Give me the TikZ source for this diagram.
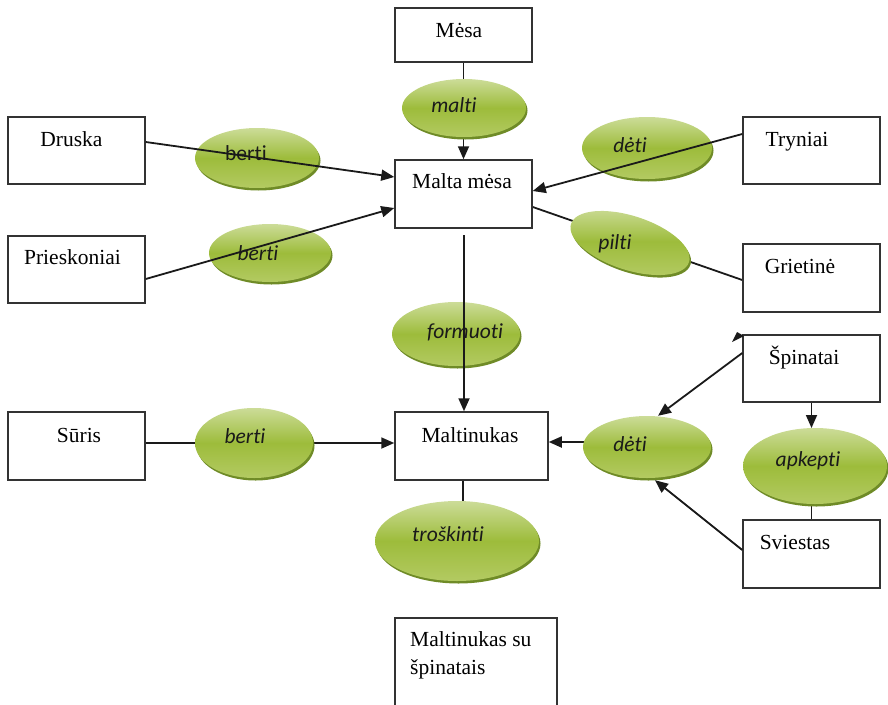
\documentclass[tikz,border=0pt]{standalone}
\usepackage{fontspec}
\setmainfont{Liberation Serif}
\newfontfamily\calib[Ligatures={NoCommon,NoRare}]{Carlito}
\usetikzlibrary{arrows.meta,shapes.geometric,backgrounds}
\definecolor{lineC}{HTML}{1A1A1A}
\definecolor{boxC}{HTML}{333333}
\definecolor{gTop}{HTML}{CCDC98}
\definecolor{gMid}{HTML}{9DBC3B}
\definecolor{gBot}{HTML}{B3CA62}
\definecolor{gShadow}{HTML}{6F8B27}
\tikzset{
  box/.style={draw=boxC, line width=1.5pt, rectangle, inner sep=0pt, minimum width=137pt},
  btxt/.style={anchor=base, inner sep=0pt, font=\fontsize{21.5}{26}\selectfont, text=black},
  etxt/.style={anchor=base, inner sep=0pt, font=\fontsize{21.5}{26}\selectfont\calib\itshape, text=lineC},
  etxtup/.style={anchor=base, inner sep=0pt, font=\fontsize{21.5}{26}\selectfont\calib, text=lineC},
  oval/.style={ellipse, inner sep=0pt, draw=none,
    preaction={fill=gShadow, transform canvas={xshift=1.5pt, yshift=-2.5pt}},
    top color=gTop, bottom color=gBot, middle color=gMid},
  arr/.style={draw=lineC, line width=1.8pt, -{Triangle[length=13pt,width=11pt]}},
  ln/.style={draw=lineC, line width=1.8pt},
}
\begin{document}
\begin{tikzpicture}[x=1pt,y=-1pt]
\useasboundingbox (0,0) rectangle (888,704);
% boxes
\node[box, minimum height=54pt] (mesa) at (463.5,35) {};
\node[box, minimum height=68pt] (malta) at (463.5,194) {};
\node[box, minimum height=67pt] (druska) at (76.5,150.5) {};
\node[box, minimum height=67pt] (priesk) at (76.5,269.5) {};
\node[box, minimum height=67pt] (tryniai) at (811.5,150.5) {};
\node[box, minimum height=68pt] (grietine) at (811.5,278) {};
\node[box, minimum height=67pt] (spinatai) at (811.5,368.5) {};
\node[box, minimum height=68pt] (sviestas) at (811.5,554) {};
\node[box, minimum height=68pt] (suris) at (76.5,446) {};
\node[box, minimum width=153pt, minimum height=68pt] (maltinukas) at (471.5,446) {};
\node[box, minimum width=162pt, minimum height=110pt] (final) at (476,673) {};
% box texts
\node[btxt] (tMesa) at (459,37) {Mėsa};
\node[btxt] (tMalta) at (462,188) {Malta mėsa};
\node[btxt] (tDruska) at (71.5,146) {Druska};
\node[btxt] (tPriesk) at (72.5,264) {Prieskoniai};
\node[btxt] (tTryniai) at (797,146) {Tryniai};
\node[btxt] (tGrietine) at (800,273) {Grietinė};
\node[btxt] (tSpinatai) at (804,364) {Špinatai};
\node[btxt] (tSviestas) at (795,549) {Sviestas};
\node[btxt] (tSuris) at (79,442) {Sūris};
\node[btxt] (tMaltinukas) at (470,442) {Maltinukas};
\node[btxt, anchor=base west] (tFinal1) at (410,646) {Maltinukas su};
\node[btxt, anchor=base west] (tFinal2) at (410,674) {špinatais};
% connectors under the ovals
\begin{scope}[on background layer]
\draw[arr] (mesa) -- (malta);
\draw[ln] ([yshift=-2pt]grietine.west) -- ([yshift=-13pt]malta.east);
\draw[arr] ([yshift=3pt]suris.east) -- ([yshift=3pt]maltinukas.west);
\draw[arr] (647,442) -- ([yshift=4pt]maltinukas.east);
\draw[arr] (spinatai.south) -- (811.5,428);
\draw[ln] (sviestas.north) -- (811.5,500);
\draw[ln] ([xshift=-8.5pt]maltinukas.south) -- (463,520);
\end{scope}
% ovals
\node[oval, minimum width=124pt, minimum height=58pt] (malti) at (464,108) {};
\node[oval, minimum width=124pt, minimum height=60pt] (berti1) at (257,158) {};
\node[oval, minimum width=122pt, minimum height=58pt] (berti2) at (270,253) {};
\node[oval, minimum width=130pt, minimum height=62pt] (deti1) at (647,148) {};
\node[oval, minimum width=124pt, minimum height=54pt, rotate=-18] (pilti) at (630,243) {};
\node[oval, minimum width=128pt, minimum height=64pt] (formuoti) at (456,334) {};
\node[oval, minimum width=118pt, minimum height=70pt] (berti3) at (254,443) {};
\node[oval, minimum width=128pt, minimum height=62pt] (deti2) at (647,447) {};
\node[oval, minimum width=144pt, minimum height=76pt] (apkepti) at (815,466) {};
\node[oval, minimum width=164pt, minimum height=80pt] (troskinti) at (457,541) {};
% oval texts
\node[etxt] (tMalti) at (454,112) {malti};
\node[etxtup] (tBerti1) at (246,160) {berti};
\node[etxt] (tBerti2) at (258,260) {berti};
\node[etxt] (tDeti1) at (630,152) {dėti};
\node[etxt] (tPilti) at (615,249) {pilti};
\node[etxt] (tFormuoti) at (465,338) {formuoti};
\node[etxt] (tBerti3) at (245,443) {berti};
\node[etxt] (tDeti2) at (630,451) {dėti};
\node[etxt] (tApkepti) at (808,466) {apkepti};
\node[etxt] (tTroskinti) at (448,541) {troškinti};
% connectors over the ovals
\draw[arr] ([yshift=8.5pt]druska.east) -- ([yshift=17pt]malta.west);
\draw[arr] ([yshift=-9.5pt]priesk.east) -- ([yshift=-14pt]malta.west);
\draw[arr] ([yshift=16.5pt]tryniai.west) -- ([yshift=3pt]malta.east);
\coordinate (mStart) at (464,235);
\draw[arr] (mStart) -- (mStart |- maltinukas.north);
\draw[arr] ([yshift=15.5pt]spinatai.west) -- ([xshift=11pt]deti2.north);
\draw[arr] ([yshift=4pt]sviestas.west) -- ([xshift=8pt,yshift=-2pt]deti2.south);
% stray arrowhead near Špinatai
\fill[lineC] (732,342) -- (737,332) -- (744,336) -- cycle;
\end{tikzpicture}
\end{document}
